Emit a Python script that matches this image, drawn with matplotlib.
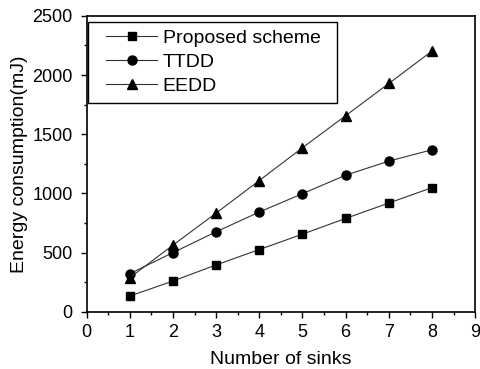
import matplotlib
matplotlib.use("Agg")
import matplotlib.pyplot as plt
from matplotlib.ticker import MultipleLocator
from matplotlib.patches import Rectangle
from matplotlib.transforms import IdentityTransform

plt.rcParams['font.family'] = ['Liberation Sans', 'DejaVu Sans']

sinks = [1, 2, 3, 4, 5, 6, 7, 8]
proposed = [133, 260, 396, 526, 656, 789, 919, 1049]
ttdd = [322, 500, 676, 843, 998, 1154, 1273, 1369]
eedd = [288, 563, 834, 1109, 1386, 1657, 1929, 2203]

fig = plt.figure(figsize=(4.81, 3.69), dpi=100)
ax = fig.add_axes([0.180, 0.155, 0.808, 0.802])

lc = '#333333'
ax.plot(sinks, proposed, '-', color=lc, lw=0.8, marker='s', ms=6, mfc='black', mec='black', label='Proposed scheme')
ax.plot(sinks, ttdd, '-', color=lc, lw=0.8, marker='o', ms=6.5, mfc='black', mec='black', label='TTDD')
ax.plot(sinks, eedd, '-', color=lc, lw=0.8, marker='^', ms=7, mfc='black', mec='black', label='EEDD')

ax.set_xlim(0, 9)
ax.set_ylim(0, 2500)
ax.xaxis.set_major_locator(MultipleLocator(1))
ax.xaxis.set_minor_locator(MultipleLocator(0.5))
ax.yaxis.set_major_locator(MultipleLocator(500))
ax.yaxis.set_minor_locator(MultipleLocator(250))
ax.tick_params(which='major', direction='out', length=4, width=1, labelsize=13)
ax.tick_params(axis='x', which='major', pad=5)
ax.tick_params(axis='y', which='major', pad=6)
ax.tick_params(which='minor', direction='out', length=2, width=1)
ax.tick_params(top=False, right=False)
for s in ax.spines.values():
    s.set_linewidth(1.2)

ax.set_xlabel('Number of sinks', fontsize=14, labelpad=7)
ax.set_ylabel('Energy consumption(mJ)', fontsize=14, labelpad=3)

ax_w = 0.808 * 481
ax_h = 0.802 * 369
leg = ax.legend(loc='upper left', bbox_to_anchor=(12 / ax_w, 1 - 6 / ax_h),
                fontsize=14, frameon=False,
                handlelength=2.6, labelspacing=0.32, borderaxespad=0.0,
                handletextpad=0.3, borderpad=0.4)
leg.set_zorder(6)

fig.canvas.draw()
bb = leg.get_window_extent(fig.canvas.get_renderer())
rect = Rectangle((bb.x0 - 11, bb.y0), bb.width + 20, bb.height,
                 transform=IdentityTransform(), facecolor='white',
                 edgecolor='black', linewidth=1.0, zorder=5)
ax.add_patch(rect)

fig.savefig('out.png', dpi=100)
